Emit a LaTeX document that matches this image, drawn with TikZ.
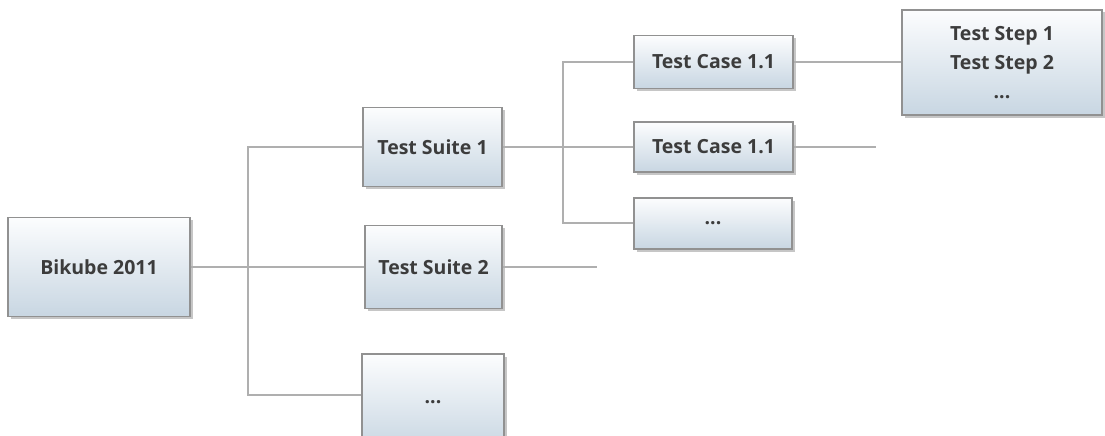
\documentclass[tikz,border=0pt]{standalone}
\usepackage{fontspec}
\setmainfont{Open Sans}
\usetikzlibrary{shadows}
\definecolor{boxbot}{RGB}{200,214,226}
\definecolor{boxtop}{RGB}{252,253,254}
\definecolor{boxline}{RGB}{145,145,145}
\definecolor{wire}{RGB}{175,175,175}
\definecolor{txt}{RGB}{60,60,60}
\tikzset{
  box/.style={draw=boxline, line width=1.2pt, top color=boxtop, bottom color=boxbot,
    drop shadow={shadow xshift=2.5pt, shadow yshift=-2.5pt, opacity=0.45},
    text=txt, font=\fontsize{19.5}{29}\selectfont\bfseries, align=center,
    inner sep=0pt, anchor=center},
  wire/.style={draw=wire, line width=1.4pt}
}
\begin{document}
\begin{tikzpicture}[x=1pt,y=-1pt]
\useasboundingbox (0,0) rectangle (1105,436);
\clip (0,0) rectangle (1105,436);
\coordinate (b1) at (248,147);
\coordinate (b3) at (248,395);
\coordinate (s2end) at (597,267);
\coordinate (c1b) at (563,62);
\coordinate (c3b) at (563,223);
\coordinate (c2end) at (876,147);
\node[box, minimum width=182pt, minimum height=99pt] (root) at (99,267) {Bikube 2011};
\node[box, minimum width=139pt, minimum height=79pt] (s1) at (432.5,147) {Test Suite 1};
\node[box, minimum width=137pt, minimum height=83pt] (s2) at (433.5,267) {Test Suite 2};
\node[box, minimum width=142pt, minimum height=96pt] (s3) at (433,402) {...};
\node[box, minimum width=159pt, minimum height=53pt] (c1) at (713.5,62) {Test Case 1.1};
\node[box, minimum width=159pt, minimum height=50pt] (c2) at (713.5,147) {Test Case 1.1};
\node[box, minimum width=158pt, minimum height=51pt] (c3) at (713,223.5) {...};
\node[box, minimum width=200pt, minimum height=105pt] (st) at (1002,62.5) {Test Step 1\\Test Step 2\\...};
\draw[wire] (root.east) -- (s2.west);
\draw[wire] (s1.west) -- (b1) -- (b3) -- (b3 -| s3.west);
\draw[wire] (s2.east) -- (s2end);
\draw[wire] (s1.east) -- (c2.west);
\draw[wire] (c1.west) -- (c1b) -- (c3b) -- (c3.west |- c3b);
\draw[wire] (c2.east) -- (c2end);
\draw[wire] (c1.east) -- (c1.east -| st.west);
\end{tikzpicture}
\end{document}
